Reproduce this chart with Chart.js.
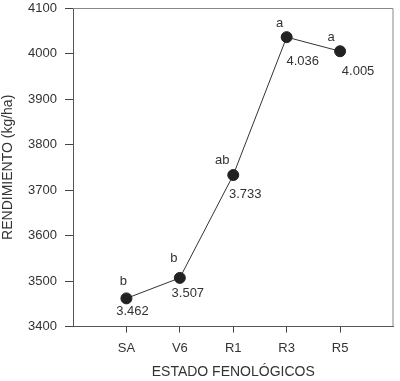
<!DOCTYPE html>
<html>
<head>
<meta charset="utf-8">
<script src="https://cdn.jsdelivr.net/npm/chart.js@4/dist/chart.umd.min.js"></script>
<style>
  html, body { margin: 0; padding: 0; background: #fff; }
  #wrap { width: 400px; height: 381px; }
</style>
</head>
<body>
<div id="wrap"><canvas id="rendChart" width="400" height="381"></canvas></div>
<script>
// DATA
const estados = ['SA', 'V6', 'R1', 'R3', 'R5'];
const rendimiento = [3462, 3507, 3733, 4036, 4005];
const letras = ['b', 'b', 'ab', 'a', 'a'];
const yTicks = [3400, 3500, 3600, 3700, 3800, 3900, 4000, 4100];

// label offsets from each point (px)
const letraOff = [[-3, -17], [-6, -19], [-11, -15], [-7, -14], [-9, -14]];
const valorOff = [[6, 13], [8, 16], [12, 19], [16, 24], [18, 20]];

const FONT = 'Liberation Sans, Arial, sans-serif';
const TXT = '#333';

function fmt(v) {
    const s = String(Math.round(v));
    return s.slice(0, s.length - 3) + '.' + s.slice(-3);
}

// box frame + point labels
const extras = {
    id: 'extras',
    beforeDatasetsDraw(chart) {
        const a = chart.chartArea;
        const c = chart.ctx;
        c.save();
        c.strokeStyle = '#888';
        c.lineWidth = 1;
        c.beginPath();
        c.moveTo(a.left, a.top + 0.5);
        c.lineTo(a.right - 0.5, a.top + 0.5);
        c.lineTo(a.right - 0.5, a.bottom);
        c.stroke();
        c.restore();
    },
    afterDatasetsDraw(chart) {
        const c = chart.ctx;
        const meta = chart.getDatasetMeta(0);
        c.save();
        c.font = '13px ' + FONT;
        c.fillStyle = TXT;
        c.textAlign = 'center';
        c.textBaseline = 'middle';
        meta.data.forEach((p, i) => {
            c.fillText(letras[i], p.x + letraOff[i][0], p.y + letraOff[i][1]);
            c.fillText(fmt(rendimiento[i]), p.x + valorOff[i][0], p.y + valorOff[i][1]);
        });
        c.restore();
    }
};

new Chart(document.getElementById('rendChart'), {
    type: 'line',
    data: {
        datasets: [{
            data: rendimiento.map((v, i) => ({ x: i + 1, y: v })),
            borderColor: '#333',
            borderWidth: 1,
            backgroundColor: '#222',
            pointBackgroundColor: '#222',
            pointBorderColor: '#222',
            pointRadius: 5.5,
            tension: 0
        }]
    },
    options: {
        responsive: false,
        animation: false,
        layout: { padding: { top: 8, right: 4, left: 0, bottom: 0 } },
        plugins: {
            legend: { display: false },
            tooltip: { enabled: false }
        },
        scales: {
            x: {
                type: 'linear',
                min: 0,
                max: estados.length + 1,
                afterBuildTicks: (s) => { s.ticks = estados.map((e, i) => ({ value: i + 1 })); },
                afterFit: (s) => { s.paddingLeft = 0; s.paddingRight = 0; },
                ticks: {
                    callback: (v) => estados[v - 1] || '',
                    color: TXT,
                    font: { family: FONT, size: 13 },
                    padding: 8,
                    autoSkip: false,
                    maxRotation: 0
                },
                grid: { drawOnChartArea: false, drawTicks: true, tickLength: 6, color: '#444' },
                border: { display: true, color: '#555', width: 1 },
                title: {
                    display: true,
                    text: 'ESTADO FENOLÓGICOS',
                    color: TXT,
                    font: { family: FONT, size: 14 },
                    padding: { top: 0, bottom: 0 }
                }
            },
            y: {
                min: 3400,
                max: 4100,
                afterBuildTicks: (s) => { s.ticks = yTicks.map(v => ({ value: v })); },
                afterFit: (s) => { s.width = 73; s.paddingTop = 0; s.paddingBottom = 0; },
                ticks: {
                    callback: (v) => String(v),
                    color: TXT,
                    font: { family: FONT, size: 13 },
                    padding: 8
                },
                grid: { drawOnChartArea: false, drawTicks: true, tickLength: 8, color: '#444' },
                border: { display: true, color: '#555', width: 1 },
                title: {
                    display: true,
                    text: 'RENDIMIENTO (kg/ha)',
                    color: TXT,
                    font: { family: FONT, size: 14 },
                    padding: { top: 0, bottom: 0 }
                }
            }
        }
    },
    plugins: [extras]
});
</script>
</body>
</html>
